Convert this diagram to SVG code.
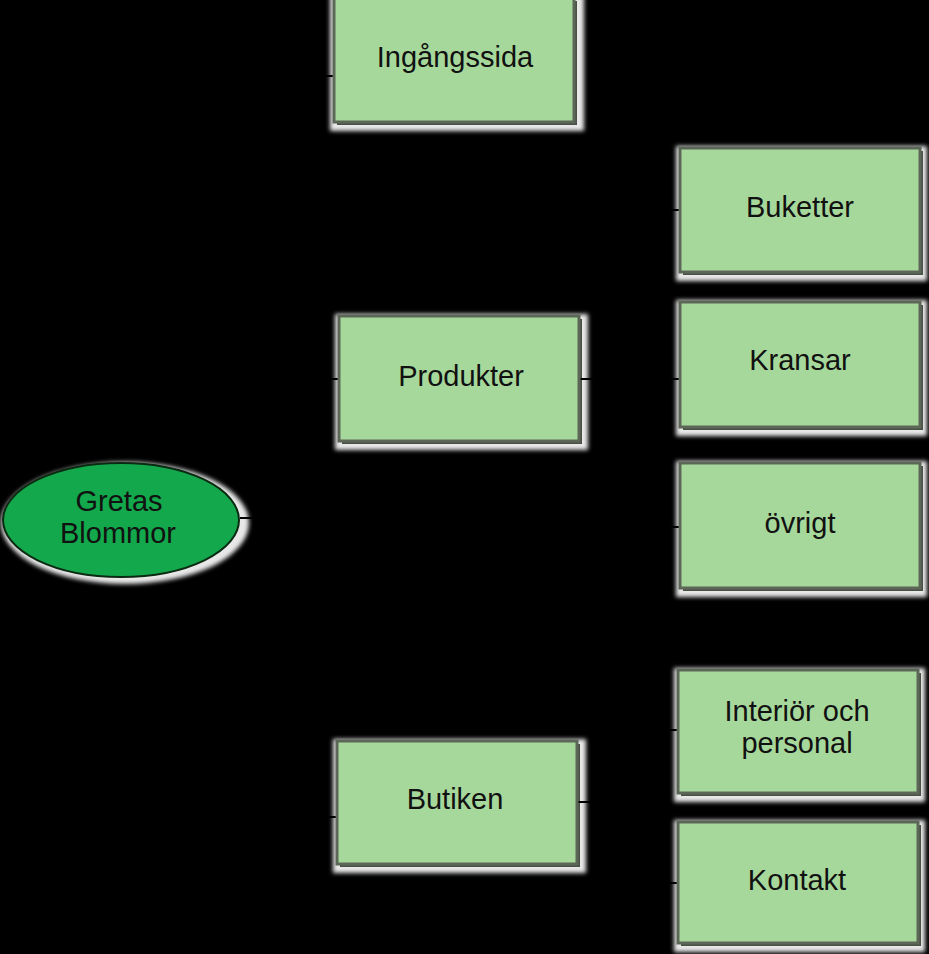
<svg xmlns="http://www.w3.org/2000/svg" width="929" height="954" viewBox="0 0 929 954">
<defs>
<filter id="halo" x="-10%" y="-10%" width="125%" height="130%">
<feGaussianBlur stdDeviation="2"/>
</filter>
</defs>
<style>
.box{fill:#a7d89b;stroke:#5c6758;stroke-width:3}
.sh{fill:#e8e8e8;filter:url(#halo)}
.dk{fill:#4a5247}
.lbl{font-family:"Liberation Sans",Arial,sans-serif;font-size:29px;fill:#111;text-anchor:middle}
.con{stroke:#000;stroke-width:2;fill:none}
</style>
<rect width="929" height="954" fill="#000"/>
<g id="shadows">
<rect class="sh" x="330" y="-4" width="254" height="135"/>
<rect class="sh" x="335" y="314" width="253" height="136"/>
<rect class="sh" x="333" y="739" width="253" height="134"/>
<rect class="sh" x="676" y="146" width="251" height="135"/>
<rect class="sh" x="676" y="300" width="251" height="136"/>
<rect class="sh" x="676" y="461" width="251" height="136"/>
<rect class="sh" x="674" y="668" width="251" height="134"/>
<rect class="sh" x="674" y="820" width="251" height="132"/>
<ellipse class="sh" cx="125" cy="523" rx="124" ry="61"/>
<rect class="dk" x="337" y="1" width="240" height="124"/>
<rect class="dk" x="342" y="319" width="240" height="125"/>
<rect class="dk" x="340" y="744" width="240" height="123"/>
<rect class="dk" x="683" y="151" width="240" height="124"/>
<rect class="dk" x="683" y="305" width="240" height="125"/>
<rect class="dk" x="683" y="466" width="240" height="125"/>
<rect class="dk" x="681" y="673" width="240" height="123"/>
<rect class="dk" x="681" y="825" width="240" height="121"/>
</g>
<g id="connectors">
<path class="con" d="M240 518 H300 M300 76 V817 M300 76 H334 M300 379 H339 M300 817 H337"/>
<path class="con" d="M579 379 H630 M630 210 V527 M630 210 H680 M630 379 H680 M630 527 H680"/>
<path class="con" d="M577 802 H630 M630 730 V883 M630 730 H678 M630 883 H678"/>
</g>
<g id="n-root">
<ellipse cx="121" cy="520" rx="118" ry="57" fill="#12a84b" stroke="#0b2a12" stroke-width="2"/>
<text class="lbl" x="119" y="511">Gretas</text>
<text class="lbl" x="118" y="543">Blommor</text>
</g>
<g id="n-ingangssida">
<rect class="box" x="334" y="-2" width="240" height="124"/>
<text class="lbl" x="455" y="67">Ingångssida</text>
</g>
<g id="n-produkter">
<rect class="box" x="339" y="316" width="240" height="125"/>
<text class="lbl" x="461" y="386">Produkter</text>
</g>
<g id="n-butiken">
<rect class="box" x="337" y="741" width="240" height="123"/>
<text class="lbl" x="455" y="809">Butiken</text>
</g>
<g id="n-buketter">
<rect class="box" x="680" y="148" width="240" height="124"/>
<text class="lbl" x="800" y="217">Buketter</text>
</g>
<g id="n-kransar">
<rect class="box" x="680" y="302" width="240" height="125"/>
<text class="lbl" x="800" y="370">Kransar</text>
</g>
<g id="n-ovrigt">
<rect class="box" x="680" y="463" width="240" height="125"/>
<text class="lbl" x="800" y="533">övrigt</text>
</g>
<g id="n-interior">
<rect class="box" x="678" y="670" width="240" height="123"/>
<text class="lbl" x="797" y="721">Interiör och</text>
<text class="lbl" x="797" y="753">personal</text>
</g>
<g id="n-kontakt">
<rect class="box" x="678" y="822" width="240" height="121"/>
<text class="lbl" x="797" y="890">Kontakt</text>
</g>
</svg>
